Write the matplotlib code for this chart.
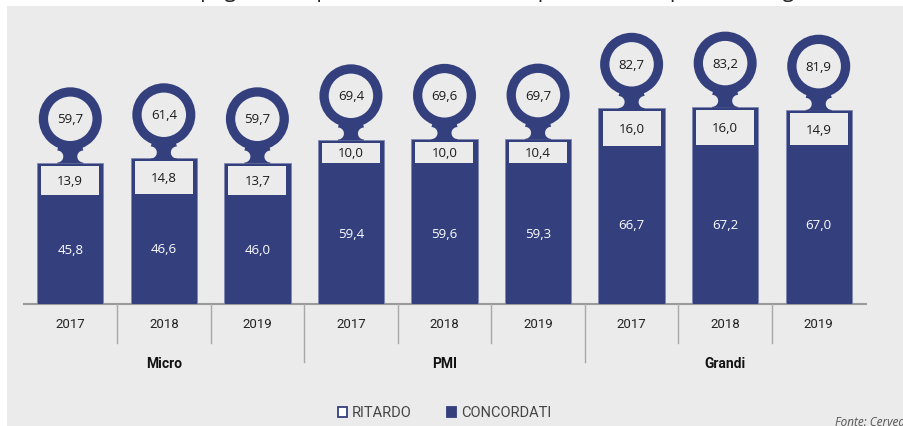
import numpy as np
import matplotlib
matplotlib.use('Agg')
import matplotlib.pyplot as plt
from matplotlib import transforms
from matplotlib.patches import Rectangle, Circle, Polygon

# dati (giorni, medie ponderate)
gruppi = ['Micro', 'PMI', 'Grandi']
anni = ['2017', '2018', '2019', '2017', '2018', '2019', '2017', '2018', '2019']
ritardo = [13.9, 14.8, 13.7, 10.0, 10.0, 10.4, 16.0, 16.0, 14.9]
concordati = [45.8, 46.6, 46.0, 59.4, 59.6, 59.3, 66.7, 67.2, 67.0]
totale = [59.7, 61.4, 59.7, 69.4, 69.6, 69.7, 82.7, 83.2, 81.9]

blu = '#343f7e'
sfondo = '#ebebeb'
W, H = 904, 427

def fy(ypix):
    return 1 - ypix / H

def fmt(v):
    return f'{v:.1f}'.replace('.', ',')

fig = plt.figure(figsize=(W / 100, H / 100), dpi=100, facecolor='white')
fig.patches.append(Rectangle((7 / W, 0), 1, fy(7), transform=fig.transFigure,
                             facecolor=sfondo, edgecolor='none', zorder=-5))

# titolo tagliato in alto (come nell'originale)
fig.text(58 / W, fy(-3), "Giorni medi di pagamento per dimensione dell'impresa (medie ponderate, giorni) dal 2017 al 2019",
         fontsize=15, family='Open Sans', color='#222222', va='baseline', ha='left', zorder=-6)

ax = fig.add_axes([23.5 / W, fy(305), 842 / W, (305 - 10) / H])
ax.set_zorder(2)
ax.patch.set_visible(False)
ax.set_xlim(-0.5, 8.5)
ax.set_ylim(0, (305 - 10) / 2.37)
ax.axis('off')

x = np.arange(len(anni))
bw = 0.71
ax.bar(x, totale, width=bw, color=blu, edgecolor='#8088b0', linewidth=0.6, zorder=2)

a = np.linspace(-np.pi / 2, np.pi / 2, 30)
rc, xc, yc = 0.06, 0.13, 0.06
left = np.column_stack([-xc + rc * np.cos(a), yc + rc * np.sin(a)])
right = np.column_stack([xc - rc * np.cos(a), yc + rc * np.sin(a)])[::-1]
collo = np.vstack([[[-xc, -0.01]], left, [[-0.11, 0.2], [0.11, 0.2]], right, [[xc, -0.01]]])

for i in range(len(x)):
    tr = fig.dpi_scale_trans + transforms.ScaledTranslation(x[i], totale[i], ax.transData)
    tb = fig.dpi_scale_trans + transforms.ScaledTranslation(x[i], concordati[i], ax.transData)
    # collo tra cerchio e barra
    ax.add_patch(Polygon(collo, closed=True, transform=tr, facecolor=blu, edgecolor='none', zorder=3, clip_on=False))
    ax.add_patch(Circle((0, 0.437), 0.315, transform=tr, facecolor=blu, edgecolor='none', zorder=4, clip_on=False))
    ax.add_patch(Circle((0, 0.437), 0.222, transform=tr, facecolor=sfondo, edgecolor='none', zorder=5, clip_on=False))
    # riquadro ritardo
    hbox = ritardo[i] * 2.37 / 100 - 0.03
    ax.add_patch(Rectangle((-0.29, 0), 0.58, hbox, transform=tb, facecolor=sfondo,
                           edgecolor='none', zorder=5, clip_on=False))
    ax.text(0, hbox / 2, fmt(ritardo[i]), transform=tb, ha='center', va='center',
            fontsize=9.5, family='Open Sans', color='#1a1a1a', zorder=6)
    ax.text(0, 0.437, fmt(totale[i]), transform=tr, ha='center', va='center',
            fontsize=9.5, family='Open Sans', color='#1a1a1a', zorder=6)
    ax.text(x[i], concordati[i] / 2, fmt(concordati[i]), ha='center', va='center',
            fontsize=9.5, family='Open Sans', color='white', zorder=6)

# asse e separatori
bt = transforms.blended_transform_factory(ax.transData, fig.transFigure)
ax.plot([-0.5, 8.5], [fy(305), fy(305)], transform=bt, color='#9a9a9a', lw=1.5, clip_on=False, zorder=1)
for s in np.arange(0.5, 8, 1.0):
    fondo = 363 if s in (2.5, 5.5) else 344
    ax.plot([s, s], [fy(305), fy(fondo)], transform=bt, color='#a8a8a8', lw=1, clip_on=False)

for i in range(len(x)):
    fig.text(x[i], fy(325), anni[i], transform=bt, ha='center', va='center',
             fontsize=9.5, family='Roboto', color='#222222')
for g in range(len(gruppi)):
    fig.text(3 * g + 1, fy(364), gruppi[g], transform=bt, ha='center', va='center',
             fontsize=10, family='Roboto', fontweight='bold', color='#111111')

# legenda
fig.patches.append(Rectangle((338 / W, fy(418)), 9 / W, 10 / H, transform=fig.transFigure,
                             facecolor='white', edgecolor=blu, linewidth=1.3))
fig.text(352 / W, fy(413), 'RITARDO', ha='left', va='center', fontsize=10.5,
         family='Roboto', color='#444444')
fig.patches.append(Rectangle((447 / W, fy(418)), 9 / W, 10 / H, transform=fig.transFigure,
                             facecolor=blu, edgecolor=blu, linewidth=1.3))
fig.text(461 / W, fy(413), 'CONCORDATI', ha='left', va='center', fontsize=10.5,
         family='Roboto', color='#444444')

fig.text(835 / W, fy(423), 'Fonte: Cerved', ha='left', va='center', fontsize=8.5,
         family='Open Sans', style='italic', color='#555555')

fig.savefig('out.png', dpi=100, facecolor='white')
